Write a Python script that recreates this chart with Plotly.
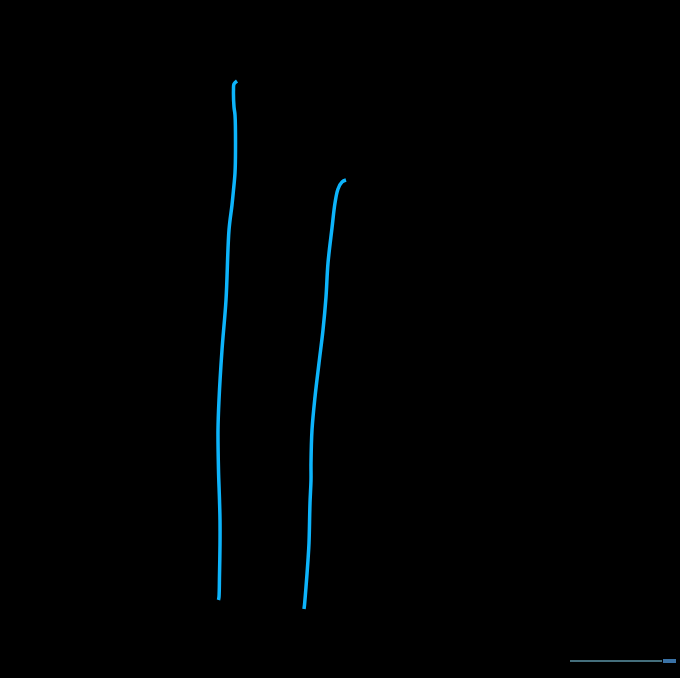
import plotly.graph_objects as go

# stroke coordinates (pixel space, y grows downward)
stroke1_x = [237, 234, 233.5, 234, 235, 235.5, 235, 233.5, 232, 229, 226, 222, 219, 218, 218.5, 219.5, 220, 220, 219.5, 219, 218.5]
stroke1_y = [81, 84, 90, 107, 115, 150, 173, 190, 205, 230, 300, 350, 400, 430, 470, 500, 520, 545, 575, 597, 600]

stroke2_x = [346, 342, 338, 335, 332, 328, 326, 323, 319, 315, 312, 311, 311, 310, 309, 308, 306, 304.5, 304]
stroke2_y = [180, 182, 189, 203, 228, 263, 297, 330, 363, 397, 430, 463, 480, 503, 543, 560, 587, 605, 609]

track_x = [570, 662]
track_y = [661, 661]
handle_x = [663, 676]
handle_y = [661, 661]

stroke_color = "#0db4fb"

fig = go.Figure()

fig.add_trace(go.Scatter(
    x=stroke1_x, y=stroke1_y, mode="lines",
    line=dict(color=stroke_color, width=3.5, shape="spline"),
    hoverinfo="skip"
))
fig.add_trace(go.Scatter(
    x=stroke2_x, y=stroke2_y, mode="lines",
    line=dict(color=stroke_color, width=3.5, shape="spline"),
    hoverinfo="skip"
))
fig.add_trace(go.Scatter(
    x=track_x, y=track_y, mode="lines",
    line=dict(color="#5b93a6", width=1.5),
    hoverinfo="skip"
))
fig.add_trace(go.Scatter(
    x=handle_x, y=handle_y, mode="lines",
    line=dict(color="#3a72a6", width=4),
    hoverinfo="skip"
))

fig.update_layout(
    width=680,
    height=678,
    margin=dict(l=0, r=0, t=0, b=0),
    paper_bgcolor="black",
    plot_bgcolor="black",
    showlegend=False,
    xaxis=dict(range=[0, 680], visible=False, fixedrange=True),
    yaxis=dict(range=[678, 0], visible=False, fixedrange=True),
)

# page has a default body margin, drop it so the figure fills the window
fig.write_html(
    "out.html",
    config={"displayModeBar": False},
    post_script="document.body.style.margin='0';document.body.style.background='black';",
)
